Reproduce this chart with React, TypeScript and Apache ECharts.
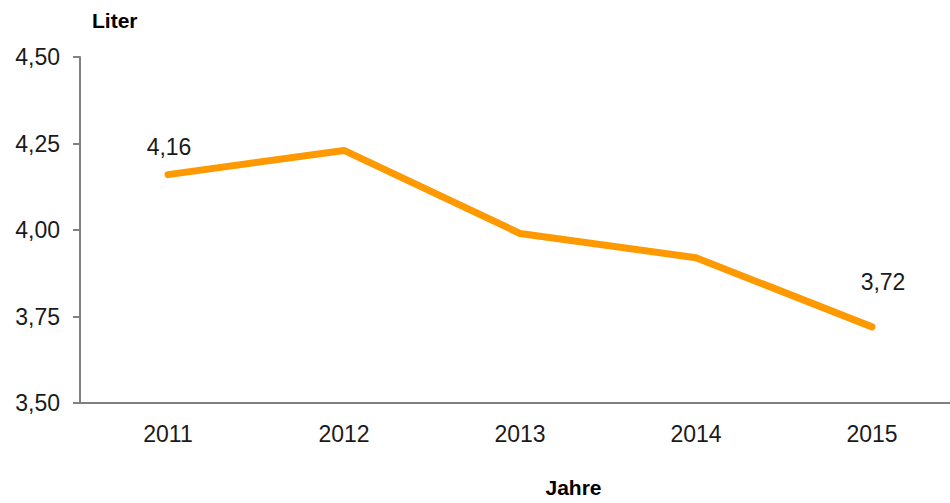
import React, { useEffect, useRef } from "react";
import * as echarts from "echarts";

const years = ["2011", "2012", "2013", "2014", "2015"];
const liters = [4.16, 4.23, 3.99, 3.92, 3.72];
const labeledIndexes = [0, 4];

const fmt = (v: number) => v.toFixed(2).replace(".", ",");

export default function App() {
  const ref = useRef<HTMLDivElement>(null);
  useEffect(() => {
    if (!ref.current) return;
    const prevOverflow = document.body.style.overflow;
    document.body.style.overflow = "hidden";
    const chart = echarts.init(ref.current, undefined, { renderer: "svg" });
    const font = "Liberation Sans, Arial, sans-serif";
    chart.setOption({
      animation: false,
      backgroundColor: "#ffffff",
      textStyle: { fontFamily: font },
      grid: { left: 80, top: 57, width: 880, bottom: 97, containLabel: false },
      xAxis: {
        type: "category",
        data: years,
        boundaryGap: true,
        axisLine: { lineStyle: { color: "#808080", width: 2 } },
        axisTick: { show: false },
        axisLabel: { color: "#1a1a1a", fontSize: 23, margin: 19, fontFamily: font },
        name: "Jahre",
        nameLocation: "middle",
        nameGap: 74,
        nameTextStyle: { color: "#000", fontSize: 21, fontWeight: "bold", fontFamily: font, padding: [0, 0, 0, 107] },
        splitLine: { show: false },
      },
      yAxis: {
        type: "value",
        min: 3.5,
        max: 4.5,
        interval: 0.25,
        axisLine: { show: true, lineStyle: { color: "#808080", width: 2 } },
        axisTick: { show: true, length: 7, inside: false, lineStyle: { color: "#808080", width: 2 } },
        axisLabel: { color: "#1a1a1a", fontSize: 23, margin: 20, formatter: (v: number) => fmt(v), fontFamily: font },
        splitLine: { show: false },
        name: "Liter",
        nameLocation: "end",
        nameGap: 26,
        nameTextStyle: { color: "#000", fontSize: 21, fontWeight: "bold", fontFamily: font, align: "left", padding: [0, 0, 0, 12] },
      },
      series: [
        {
          type: "line",
          data: liters.map((v, i) =>
            labeledIndexes.includes(i)
              ? {
                  value: v,
                  label: {
                    show: true,
                    position: "top",
                    distance: i === 4 ? 32 : 15,
                    offset: i === 4 ? [11, 0] : [1, 0],
                    formatter: (p: any) => fmt(p.value),
                    color: "#1a1a1a",
                    fontSize: 23,
                    fontFamily: font,
                  },
                }
              : v
          ),
          symbol: "circle",
          symbolSize: 2,
          showSymbol: true,
          lineStyle: { color: "#FF9900", width: 7, cap: "round", join: "round" },
          itemStyle: { color: "#FF9900" },
        },
      ],
    });
    return () => {
      chart.dispose();
      document.body.style.overflow = prevOverflow;
    };
  }, []);
  return <div ref={ref} style={{ position: "absolute", left: 0, top: 0, width: 960, height: 503 }} />;
}
